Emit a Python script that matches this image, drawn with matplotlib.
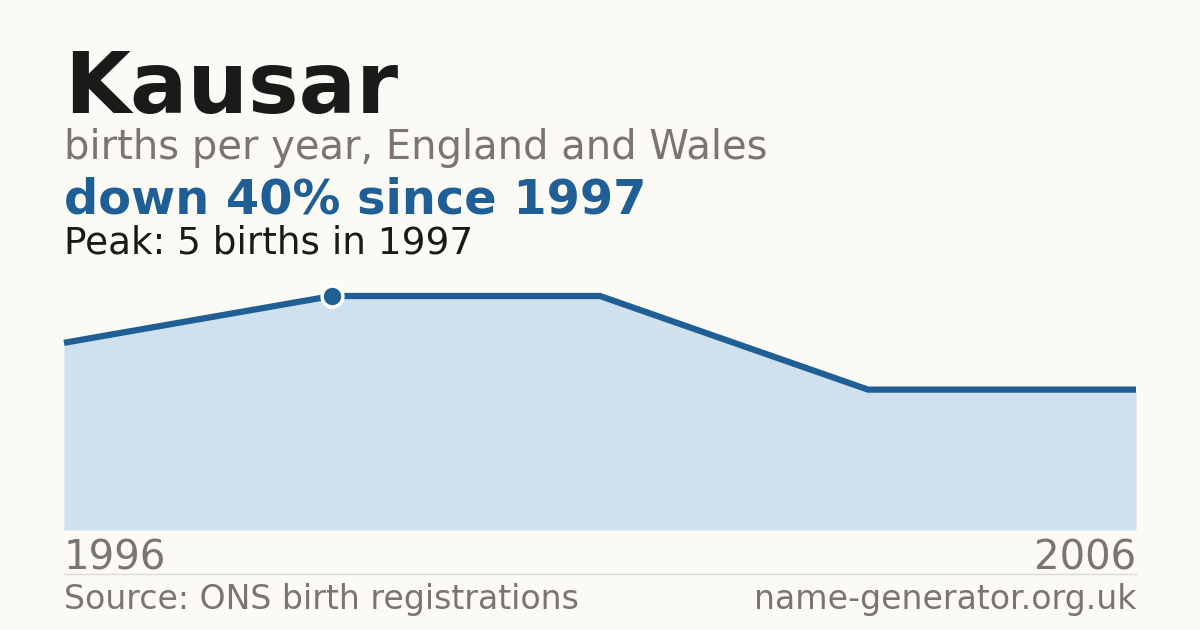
#!/usr/bin/env python3
"""Births-per-year card for a single name."""

import matplotlib

matplotlib.use("Agg")
import matplotlib.pyplot as plt
import numpy as np

NAME = "Kausar"
SUBTITLE = "births per year, England and Wales"
HEADLINE = "down 40% since 1997"
PEAK_NOTE = "Peak: 5 births in 1997"
SOURCE = "Source: ONS birth registrations"
SITE = "name-generator.org.uk"

# births per recorded point, drawn evenly spaced
births = [4, 5, 5, 3, 3]
peak_index = 1
first_year = "1996"
last_year = "2006"

BG = "#fbfaf5"
INK = "#1a1a1a"
GREY = "#7a756e"
BLUE = "#1f5f96"
FILL = "#cfe0ef"

plt.rcParams["font.family"] = ["DejaVu Sans"]

fig = plt.figure(figsize=(12, 6.3), dpi=100, facecolor=BG)

ax = fig.add_axes([64 / 1200, 100 / 630, 1072 / 1200, 234 / 630])
ax.set_facecolor(BG)
x = np.arange(len(births))
ax.fill_between(x, 0, births, color=FILL, linewidth=0)
ax.plot(x, births, color=BLUE, linewidth=4.5, solid_joinstyle="miter",
        solid_capstyle="butt", clip_on=False, zorder=3)
ax.plot(x[peak_index], births[peak_index], "o", markersize=15,
        markerfacecolor=BLUE, markeredgecolor="white", markeredgewidth=2.5,
        clip_on=False, zorder=4)
ax.set_xlim(0, len(births) - 1)
ax.set_ylim(0, max(births))
for side in ax.spines.values():
    side.set_visible(False)
ax.set_yticks([])
ax.set_xticks([0, len(births) - 1], [first_year, last_year])
ax.tick_params(axis="x", length=0, pad=6, labelsize=29, labelcolor=GREY)
labels = ax.get_xticklabels()
labels[0].set_ha("left")
labels[-1].set_ha("right")

def px(xp, yp):
    return xp / 1200, 1 - yp / 630

fig.text(*px(64, 113), NAME, fontsize=61.3, fontweight="bold", color=INK, va="baseline")
fig.text(*px(64, 159), SUBTITLE, fontsize=28.8, color=GREY, va="baseline")
fig.text(*px(64, 214), HEADLINE, fontsize=34.5, fontweight="bold", color=BLUE, va="baseline")
fig.text(*px(64, 254), PEAK_NOTE, fontsize=26.9, color=INK, va="baseline")
fig.text(*px(64, 609), SOURCE, fontsize=23.9, color=GREY, va="baseline")
fig.text(*px(1136, 609), SITE, fontsize=23.9, color=GREY, va="baseline", ha="right")
fig.add_artist(plt.Line2D([64 / 1200, 1136 / 1200], [1 - 574 / 630] * 2,
                          color="#dddad3", linewidth=1))

fig.savefig("out.png", dpi=100, facecolor=BG)
